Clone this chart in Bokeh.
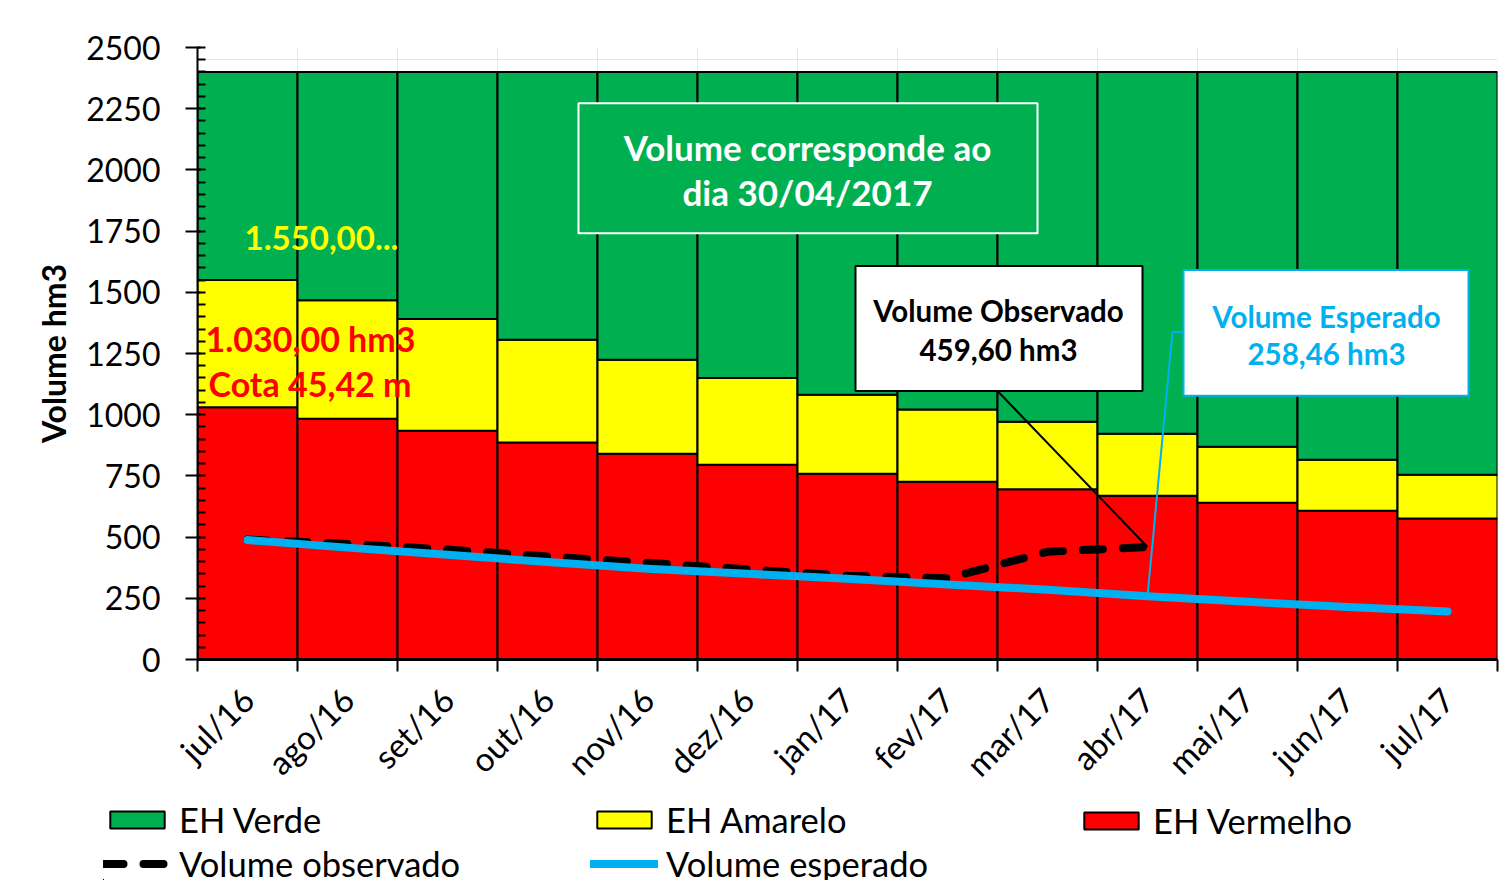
import math
from bokeh.plotting import figure
from bokeh.layouts import column
from bokeh.models import (FixedTicker, SingleIntervalTicker, Range1d, Legend, LegendItem,
                          BoxAnnotation, Label, Arrow)
from bokeh.embed import file_html
from bokeh.resources import INLINE

months = ["jul/16", "ago/16", "set/16", "out/16", "nov/16", "dez/16", "jan/17",
          "fev/17", "mar/17", "abr/17", "mai/17", "jun/17", "jul/17"]
eh_vermelho = [1030, 983, 934, 886, 840, 796, 759, 726, 695, 669, 640, 608, 576]
eh_amarelo_top = [1550, 1468, 1391, 1306, 1224, 1150, 1081, 1021, 971, 922, 869, 816, 755]
eh_verde_top = [2400] * 13
volume_observado = [490, 472, 449, 421, 395, 368, 342, 332, 440, 459.6]
volume_esperado = [488, 457, 428, 398, 371, 350, 330, 306, 285, 258.46, 236, 214, 196]

FONT = "Lato"
GREEN = "#00B050"
YELLOW = "#FFFF00"
RED = "#FF0000"
BLUE = "#00B0F0"

idx = list(range(len(months)))
bounds = [i - 0.5 for i in range(len(months) + 1)]

p = figure(width=1508, height=800, x_range=Range1d(-0.5, 12.5), y_range=Range1d(0, 2500),
           output_backend="svg", toolbar_location=None,
           min_border_left=197, min_border_top=47, min_border_right=11, min_border_bottom=140)
p.outline_line_color = None
p.background_fill_color = "white"

# grids
p.ygrid.grid_line_color = "#d9d9d9"
p.ygrid.minor_grid_line_color = "#e6e6e6"
p.xgrid.ticker = FixedTicker(ticks=bounds)
p.xgrid.grid_line_color = "#e6e6e6"

# bars
bar_style = dict(width=1, line_color="black", line_width=2)
r_red = p.vbar(x=idx, bottom=0, top=eh_vermelho, fill_color=RED, **bar_style)
r_yel = p.vbar(x=idx, bottom=eh_vermelho, top=eh_amarelo_top, fill_color=YELLOW, **bar_style)
r_grn = p.vbar(x=idx, bottom=eh_amarelo_top, top=eh_verde_top, fill_color=GREEN, **bar_style)

# lines
obs_style = dict(line_color="black", line_width=8, line_dash="20 20", line_cap="round",
                 line_join="round")
esp_style = dict(line_color=BLUE, line_width=8, line_cap="round", line_join="round")
r_obs = p.line(x=idx[:len(volume_observado)], y=volume_observado, **obs_style)
r_esp = p.line(x=idx, y=volume_esperado, **esp_style)

# y axis
ya = p.yaxis[0]
ya.ticker = SingleIntervalTicker(interval=250, num_minor_ticks=5)
ya.axis_line_color = "black"
ya.axis_line_width = 2
ya.major_tick_line_color = "black"
ya.major_tick_line_width = 2
ya.major_tick_out = 12
ya.major_tick_in = 3
ya.minor_tick_line_color = "black"
ya.minor_tick_line_width = 2
ya.minor_tick_in = 8
ya.minor_tick_out = 0
ya.major_label_text_font = FONT
ya.major_label_text_font_size = "32px"
ya.major_label_text_color = "black"
ya.major_label_standoff = 25
ya.axis_label = "Volume hm3"
ya.axis_label_text_font = FONT
ya.axis_label_text_font_size = "32px"
ya.axis_label_text_font_style = "bold"
ya.axis_label_text_color = "black"
ya.axis_label_standoff = 10

# x axis
xa = p.xaxis[0]
xa.ticker = FixedTicker(ticks=idx, minor_ticks=bounds)
xa.major_label_overrides = {i: m for i, m in enumerate(months)}
xa.major_tick_line_color = None
xa.minor_tick_line_color = "black"
xa.minor_tick_line_width = 2
xa.minor_tick_out = 12
xa.minor_tick_in = 0
xa.axis_line_color = "black"
xa.axis_line_width = 3
xa.major_label_orientation = math.pi / 4
xa.major_label_text_font = FONT
xa.major_label_text_font_size = "33px"
xa.major_label_text_color = "black"
xa.major_label_standoff = 22

# annotation boxes
box = dict(fill_alpha=1, line_alpha=1, line_width=2, level="overlay")
p.add_layout(BoxAnnotation(left=3.31, right=7.90, bottom=1741, top=2272, fill_color=GREEN,
                           line_color="white", **box))
p.add_layout(BoxAnnotation(left=6.08, right=8.95, bottom=1097, top=1607, fill_color="white",
                           line_color="black", **box))
p.add_layout(BoxAnnotation(left=9.36, right=12.21, bottom=1077, top=1591, fill_color="white",
                           line_color=BLUE, **box))

# leader lines
p.add_layout(Arrow(end=None, x_start=7.5, y_start=1097, x_end=9, y_end=volume_observado[9],
                   line_color="black", line_width=2))
p.add_layout(Arrow(end=None, x_start=9.36, y_start=1338, x_end=9.25, y_end=1338,
                   line_color=BLUE, line_width=2))
p.add_layout(Arrow(end=None, x_start=9.25, y_start=1338, x_end=9, y_end=volume_esperado[9],
                   line_color=BLUE, line_width=2))


def lab(x, y, text, color, size, align="center"):
    p.add_layout(Label(x=x, y=y, text=text, text_color=color, text_font=FONT,
                       text_font_size=size, text_font_style="bold", text_align=align,
                       text_baseline="middle", level="overlay"))


lab(5.6, 2092, "Volume corresponde ao", "white", "35px")
lab(5.6, 1909, "dia 30/04/2017", "white", "35px")
lab(-0.03, 1721, "1.550,00...", YELLOW, "33px", "left")
lab(-0.42, 1313, "1.030,00 hm3", RED, "34px", "left")
lab(-0.39, 1126, "Cota 45,42 m", RED, "34px", "left")
lab(7.51, 1427, "Volume Observado", "black", "29.5px")
lab(7.51, 1268, "459,60 hm3", "black", "29.5px")
lab(10.79, 1403, "Volume Esperado", BLUE, "29.5px")
lab(10.79, 1248, "258,46 hm3", BLUE, "29.5px")

# legend strip below the chart (same series, kept outside its view so only the legend shows)
pl = figure(width=1508, height=80, x_range=Range1d(20, 30), y_range=Range1d(3000, 4000),
            output_backend="svg", toolbar_location=None, x_axis_type=None, y_axis_type=None,
            min_border=0)
pl.outline_line_color = None
pl.grid.visible = False
pl.axis.visible = False
pl.styles = {"transform": "translateX(-94px)"}
l_red = pl.vbar(x=idx, bottom=0, top=eh_vermelho, fill_color=RED, **bar_style)
l_yel = pl.vbar(x=idx, bottom=eh_vermelho, top=eh_amarelo_top, fill_color=YELLOW, **bar_style)
l_grn = pl.vbar(x=idx, bottom=eh_amarelo_top, top=eh_verde_top, fill_color=GREEN, **bar_style)
l_obs = pl.line(x=idx[:len(volume_observado)], y=volume_observado, **obs_style)
l_esp = pl.line(x=idx, y=volume_esperado, **esp_style)


def make_legend(items, x, y):
    lg = Legend(items=[LegendItem(label=t, renderers=[r]) for t, r in items],
                orientation="vertical", location=(x, y))
    lg.glyph_width = 68
    lg.glyph_height = 21
    lg.label_standoff = 8
    lg.label_height = 40
    lg.spacing = 3
    lg.padding = 0
    lg.margin = 0
    lg.border_line_color = None
    lg.background_fill_alpha = 0
    lg.label_text_font = FONT
    lg.label_text_font_size = "34.5px"
    lg.label_text_color = "black"
    pl.add_layout(lg, "center")


make_legend([("EH Verde", l_grn), ("Volume observado", l_obs)], 0, -4)
make_legend([("EH Amarelo", l_yel), ("Volume esperado", l_esp)], 487, -4)
make_legend([("EH Vermelho", l_red)], 974, 39)

layout = column(p, pl, spacing=0)
open("out.html", "w").write(file_html(layout, INLINE))
